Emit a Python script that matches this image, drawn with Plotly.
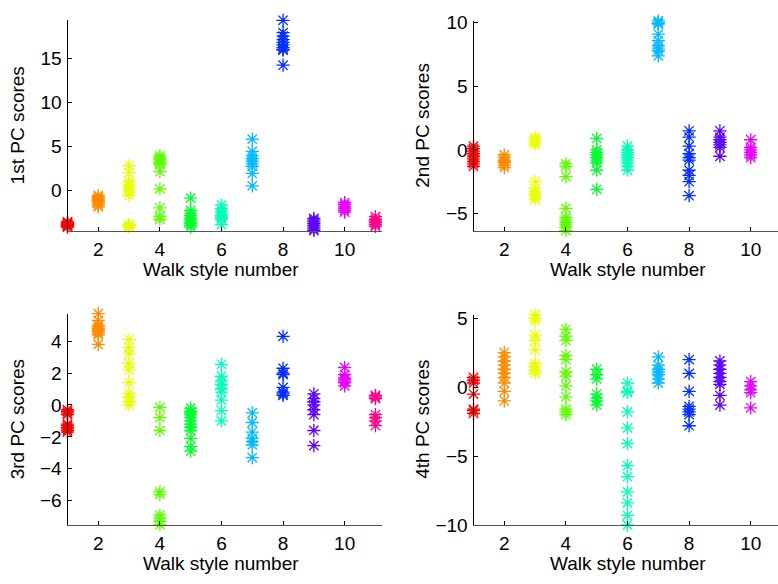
import colorsys
import plotly.graph_objects as go

# ---------------- data ----------------
walk_styles = [1, 2, 3, 4, 5, 6, 7, 8, 9, 10, 11]
x_ticks = [2, 4, 6, 8, 10]

pc1_scores = [
    [-3.6, -3.7, -3.8, -3.9, -4.0, -4.1, -4.2, -3.9, -4.0],
    [-0.6, -0.8, -1.0, -1.1, -1.2, -1.3, -1.5, -1.7, -1.9],
    [2.8, 2.0, 1.0, 0.7, 0.5, 0.1, -0.2, -0.6, -3.9, -4.0, -4.1, -4.2],
    [3.9, 3.7, 3.5, 3.3, 3.2, 3.0, 2.9, 2.1, 0.15, -2.0, -3.0, -3.3],
    [-0.9, -2.3, -2.6, -2.9, -3.2, -3.4, -3.6, -3.8, -4.0, -4.2],
    [-1.7, -2.1, -2.4, -2.7, -2.9, -3.1, -3.3, -3.9],
    [5.8, 4.4, 3.9, 3.6, 3.3, 3.0, 2.7, 1.9, 0.5],
    [19.3, 17.9, 17.5, 17.1, 16.8, 16.5, 16.2, 15.9, 16.0, 14.2],
    [-3.2, -3.4, -3.6, -3.8, -4.0, -4.2, -4.4, -4.58],
    [-1.4, -1.6, -1.8, -2.0, -2.1, -2.3, -2.5],
    [-3.0, -3.3, -3.5, -3.7, -3.9, -4.1],
]
pc2_scores = [
    [0.3, 0.1, -0.1, -0.3, -0.5, -0.7, -0.9, -1.1, -1.3],
    [-0.4, -0.6, -0.8, -0.9, -1.0, -1.2, -1.4],
    [1.0, 0.8, 0.6, 0.4, -2.5, -3.0, -3.3, -3.5, -3.7, -3.9],
    [-1.1, -1.3, -2.1, -4.6, -5.3, -5.5, -5.7, -5.9, -6.1, -6.34],
    [0.9, 0.0, -0.2, -0.4, -0.6, -0.8, -1.0, -1.6, -3.1],
    [0.3, 0.0, -0.2, -0.4, -0.6, -0.8, -1.0, -1.3, -1.6],
    [10.15, 10.0, 9.95, 9.9, 9.1, 8.6, 8.2, 8.0, 7.8, 7.4],
    [1.5, 1.0, 0.3, -0.3, -0.6, -0.8, -1.6, -2.0, -2.5, -3.6],
    [1.5, 1.0, 0.8, 0.6, 0.4, 0.2, -0.5],
    [0.8, 0.2, 0.0, -0.2, -0.4, -0.6],
    [1.2, 0.8, 0.5, 0.2, 0.0, -0.2],
]
pc3_scores = [
    [-0.3, -0.4, -0.5, -0.6, -1.2, -1.3, -1.4, -1.5, -1.6, -1.7],
    [5.72, 5.3, 5.0, 4.9, 4.8, 4.7, 4.6, 4.5, 4.4, 3.8],
    [4.1, 3.6, 3.2, 2.6, 2.2, 1.4, 0.7, 0.5, 0.2, 0.0],
    [-0.15, -0.8, -1.6, -5.45, -5.6, -6.9, -7.1, -7.3, -7.5],
    [-0.2, -0.4, -0.5, -0.6, -0.8, -1.0, -1.2, -1.4, -1.6, -2.1, -2.6, -2.9],
    [2.55, 1.8, 1.5, 1.3, 1.0, 0.8, 0.3, -0.35, -1.0],
    [-0.5, -1.1, -1.7, -2.1, -2.3, -2.5, -3.3],
    [4.3, 2.3, 2.0, 1.9, 1.1, 0.8, 0.7, 0.6],
    [0.7, 0.4, 0.2, 0.0, -0.3, -0.6, -1.6, -2.55],
    [2.35, 1.9, 1.7, 1.6, 1.5, 1.4, 1.2],
    [0.6, 0.5, 0.4, -0.6, -0.8, -1.0, -1.3],
]
pc4_scores = [
    [0.7, 0.5, 0.3, -0.5, -1.6, -1.7, -1.9],
    [2.5, 2.2, 1.9, 1.6, 1.3, 1.0, 0.7, 0.3, -0.3, -1.0],
    [5.26, 5.0, 4.8, 3.8, 3.4, 2.7, 1.7, 1.5, 1.2, 1.0],
    [4.2, 3.7, 3.4, 2.3, 2.0, 1.1, 0.8, 0.1, -0.7, -1.6, -1.8, -2.0],
    [1.3, 0.9, 0.6, -0.5, -0.8, -1.0, -1.3],
    [0.3, -0.3, -0.4, -1.8, -2.95, -4.1, -5.7, -6.5, -7.6, -8.4, -9.3, -10.0],
    [2.2, 1.6, 1.3, 1.1, 0.9, 0.6, 0.3],
    [2.0, 1.0, -0.3, -1.4, -1.6, -1.8, -2.0, -2.8],
    [1.9, 1.6, 1.3, 1.0, 0.7, 0.4, 0.2, -0.6, -1.3],
    [0.4, 0.1, -0.2, -0.4, -1.5],
    [1.8, 1.0, 0.5, -1.8, -3.0, -3.5, -5.3],
]

y_titles = ["1st PC scores", "2nd PC scores", "3rd PC scores", "4th PC scores"]
y_ticks = [[0, 5, 10, 15], [-5, 0, 5, 10], [-6, -4, -2, 0, 2, 4], [-10, -5, 0, 5]]
y_ranges = [[-4.58, 19.3], [-6.34, 10.15], [-7.52, 5.72], [-10.0, 5.26]]
x_title = "Walk style number"

# ---------------- styling ----------------
W, H = 778, 584
FONT = "Liberation Sans, Arial, Helvetica, sans-serif"
FS = 19


def hsv_color(i, n):
    r, g, b = colorsys.hsv_to_rgb(i / n, 1.0, 1.0)
    return "rgb(%d,%d,%d)" % (round(r * 255), round(g * 255), round(b * 255))


colors = [hsv_color(i, len(walk_styles)) for i in range(len(walk_styles))]

# pixel geometry of each panel:
# (left, right, top, bottom, xmax, x-title centre y, x tick-label standoff)
panels = [
    (67.5, 381.6, 12.7, 230.0, 11.2, 270.5, 2),
    (473.5, 778.0, 13.3, 230.0, 10.886, 270.5, 2),
    (67.5, 381.6, 316.0, 534.3, 11.2, 574.0, 1),
    (473.5, 778.0, 317.0, 534.3, 10.886, 574.0, 1),
]
# full (uncropped) horizontal centre of each panel, for x titles
x_centres = [221, 628, 221, 628]

fig = go.Figure()
all_scores = [pc1_scores, pc2_scores, pc3_scores, pc4_scores]

annotations = []
for p, scores in enumerate(all_scores):
    xa = "x" if p == 0 else "x%d" % (p + 1)
    ya = "y" if p == 0 else "y%d" % (p + 1)
    left, right, top, bottom, xmax, ty, xstand = panels[p]
    for k, style in enumerate(walk_styles):
        vals = scores[k]
        beyond = style > xmax
        fig.add_trace(go.Scatter(
            x=[style] * len(vals), y=vals, mode="markers",
            xaxis=xa, yaxis=ya, showlegend=False, cliponaxis=beyond,
            marker=dict(symbol="asterisk-open", size=11, color=colors[k],
                        line=dict(width=1.3, color=colors[k])),
            hoverinfo="x+y",
        ))
    axis_common = dict(showgrid=False, zeroline=False, showline=True,
                       ticks="inside", ticklen=4, tickwidth=1, tickcolor="black",
                       tickfont=dict(family=FONT, size=FS, color="black"),
                       mirror=False)
    xkey = "xaxis" if p == 0 else "xaxis%d" % (p + 1)
    ykey = "yaxis" if p == 0 else "yaxis%d" % (p + 1)
    fig.update_layout(**{
        xkey: dict(axis_common, domain=[left / W, right / W], range=[1, xmax],
                   tickmode="array", tickvals=x_ticks, anchor=ya,
                   linecolor="#555555", linewidth=1, ticklabelstandoff=xstand),
        ykey: dict(axis_common, domain=[1 - bottom / H, 1 - top / H],
                   range=y_ranges[p], tickmode="array", tickvals=y_ticks[p],
                   anchor=xa, linecolor="black", linewidth=1,
                   ticklabelstandoff=1),
    })
    annotations.append(dict(
        text=x_title, xref="paper", yref="paper", showarrow=False,
        x=x_centres[p] / W, y=1 - ty / H,
        xanchor="center", yanchor="middle",
        font=dict(family=FONT, size=FS, color="black")))
    annotations.append(dict(
        text=y_titles[p], xref="paper", yref="paper", showarrow=False,
        x=(left - 50.5) / W, y=1 - (top + bottom) / 2 / H, textangle=-90,
        xanchor="center", yanchor="middle",
        font=dict(family=FONT, size=FS, color="black")))

fig.update_layout(
    width=W, height=H, margin=dict(l=0, r=0, t=0, b=0),
    paper_bgcolor="white", plot_bgcolor="white",
    annotations=annotations, hovermode="closest",
)

fig.write_html("out.html", config={"displayModeBar": False},
               post_script="document.body.style.margin='0px';"
                           "document.body.style.overflow='hidden';")
